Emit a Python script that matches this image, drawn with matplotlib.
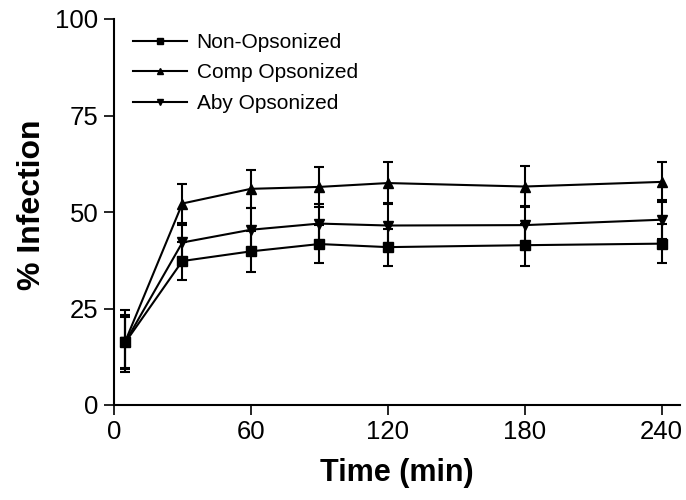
import matplotlib
matplotlib.use("Agg")
import matplotlib.pyplot as plt

plt.rcParams["font.family"] = ["Liberation Sans", "DejaVu Sans"]

# data
TIMES = [5, 30, 60, 90, 120, 180, 240]

NON_OPS = [16.2, 37.3, 39.8, 41.7, 40.9, 41.4, 41.8]
NON_OPS_ERR = [6.5, 5.0, 5.3, 4.9, 4.8, 5.4, 5.0]

COMP_OPS = [16.5, 52.2, 56.0, 56.5, 57.5, 56.6, 57.8]
COMP_OPS_ERR = [8.0, 5.1, 5.0, 5.1, 5.4, 5.2, 5.1]

ABY_OPS = [16.3, 42.1, 45.4, 47.0, 46.5, 46.6, 48.0]
ABY_OPS_ERR = [7.0, 4.5, 5.6, 5.0, 5.8, 5.0, 5.0]

LABELS = ["Non-Opsonized", "Comp Opsonized", "Aby Opsonized"]
X_TICKS = [0, 60, 120, 180, 240]
Y_TICKS = [0, 25, 50, 75, 100]


def main():
    fig = plt.figure(figsize=(6.86, 5.0), dpi=100)
    ax = fig.add_axes([0.166, 0.19, 0.825, 0.772])

    series = [
        (NON_OPS, NON_OPS_ERR, "s"),
        (COMP_OPS, COMP_OPS_ERR, "^"),
        (ABY_OPS, ABY_OPS_ERR, "v"),
    ]
    for (ys, err, marker), label in zip(series, LABELS):
        ax.errorbar(TIMES, ys, yerr=err, color="black", marker=marker,
                    markersize=7, linewidth=1.5, elinewidth=1.5,
                    capsize=3.5, capthick=1.5, label=label)

    ax.set_xlim(0, 248)
    ax.set_ylim(0, 100)
    ax.set_xticks(X_TICKS)
    ax.set_yticks(Y_TICKS)
    ax.tick_params(direction="out", length=7, width=1.2, labelsize=18.5, pad=4)
    for side in ("top", "right"):
        ax.spines[side].set_visible(False)
    for side in ("left", "bottom"):
        ax.spines[side].set_linewidth(1.5)

    ax.set_xlabel("Time (min)", fontsize=22, fontweight="bold", labelpad=10)
    ax.set_ylabel("% Infection", fontsize=23, fontweight="bold")
    ax.yaxis.set_label_coords(-0.118, 0.52)

    # legend: plain line + marker, no error bars
    handles, labels = ax.get_legend_handles_labels()
    handles = [h[0] for h in handles]
    ax.legend(handles, labels, loc="upper left", frameon=False,
              fontsize=15, markerscale=0.7, handlelength=2.6,
              handletextpad=0.45, labelspacing=0.55, borderpad=0,
              borderaxespad=0, bbox_to_anchor=(133 / 686, 0.934),
              bbox_transform=fig.transFigure)

    fig.savefig("out.png", dpi=100)
    plt.close(fig)


if __name__ == "__main__":
    main()
